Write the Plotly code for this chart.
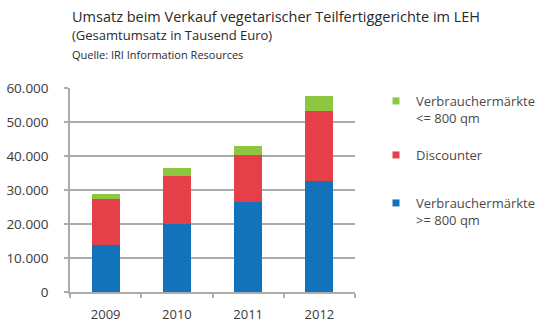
import plotly.graph_objects as go

years = ["2009", "2010", "2011", "2012"]
vm_gross = [13700, 20000, 26600, 32600]      # Verbrauchermärkte >= 800 qm
discounter = [13650, 14200, 13700, 20700]     # Discounter
vm_klein = [1450, 2300, 2700, 4400]           # Verbrauchermärkte <= 800 qm

series_names = ["Verbrauchermärkte<br>>= 800 qm", "Discounter", "Verbrauchermärkte<br><= 800 qm"]
series_colors = ["#1273bb", "#e5404a", "#8dc63f"]
series_values = [vm_gross, discounter, vm_klein]

tick_vals = [0, 10000, 20000, 30000, 40000, 50000, 60000]
tick_text = ["0", "10.000", "20.000", "30.000", "40.000", "50.000", "60.000"]

FONT = "Open Sans"
TXT = "#3a3a3a"
W, H = 550, 323
ML, MR, MT, MB = 70, 195, 88, 31

fig = go.Figure()
for vals, col in zip(series_values, series_colors):
    fig.add_trace(go.Bar(x=years, y=vals, marker=dict(color=col, line=dict(width=0)),
                         showlegend=False, width=0.39))

legend_ids = ["legend3", "legend2", "legend"]
for name, col, lid in zip(series_names, series_colors, legend_ids):
    fig.add_trace(go.Scatter(x=[None], y=[None], mode="markers", name=name,
                             marker=dict(symbol="square", size=7, color=col),
                             legend=lid, showlegend=True))

leg_common = dict(xref="container", yref="container", xanchor="left", yanchor="top",
                  font=dict(family=FONT, size=13, color="#4a4a4a"), valign="top",
                  bgcolor="rgba(0,0,0,0)", itemwidth=30)

def cy(px):
    return 1 - px / H

def py(px):
    return (H - MB - px) / (H - MB - MT)

fig.update_layout(
    width=W, height=H,
    margin=dict(l=ML, r=MR, t=MT, b=MB, autoexpand=False),
    paper_bgcolor="white", plot_bgcolor="white",
    barmode="stack",
    font=dict(family=FONT, size=13, color=TXT),
    legend=dict(x=376 / W, y=cy(86), **leg_common),
    legend2=dict(x=376 / W, y=cy(140), **leg_common),
    legend3=dict(x=376 / W, y=cy(188), **leg_common),
    xaxis=dict(type="category", showline=True, linecolor="#ababab", linewidth=1.5,
               ticks="outside", tickson="boundaries", ticklen=4, tickcolor="#ababab",
               tickwidth=1.5, showgrid=False, tickfont=dict(size=13, color=TXT),
               ticklabelstandoff=10, automargin=False),
    yaxis=dict(range=[0, 60000], tickvals=tick_vals, ticktext=tick_text,
               showline=True, linecolor="#ababab", linewidth=1.5,
               ticks="outside", ticklen=4, tickcolor="#ababab", tickwidth=1.5,
               showgrid=True, gridcolor="#ababab", gridwidth=1.5, zeroline=False,
               tickfont=dict(size=13.5, color=TXT), ticklabelstandoff=13, automargin=False),
    annotations=[
        dict(text="Umsatz beim Verkauf vegetarischer Teilfertiggerichte im LEH",
             xref="paper", yref="paper", x=0, y=py(17), xanchor="left", yanchor="middle",
             showarrow=False, font=dict(family=FONT, size=14.5, color="#2a2a2a")),
        dict(text="(Gesamtumsatz in Tausend Euro)",
             xref="paper", yref="paper", x=0, y=py(35), xanchor="left", yanchor="middle",
             showarrow=False, font=dict(family=FONT, size=13, color="#2a2a2a")),
        dict(text="Quelle: IRI Information Resources",
             xref="paper", yref="paper", x=0, y=py(55), xanchor="left", yanchor="middle",
             showarrow=False, font=dict(family=FONT, size=11, color="#2a2a2a")),
    ],
)

fig.write_html("out.html")
